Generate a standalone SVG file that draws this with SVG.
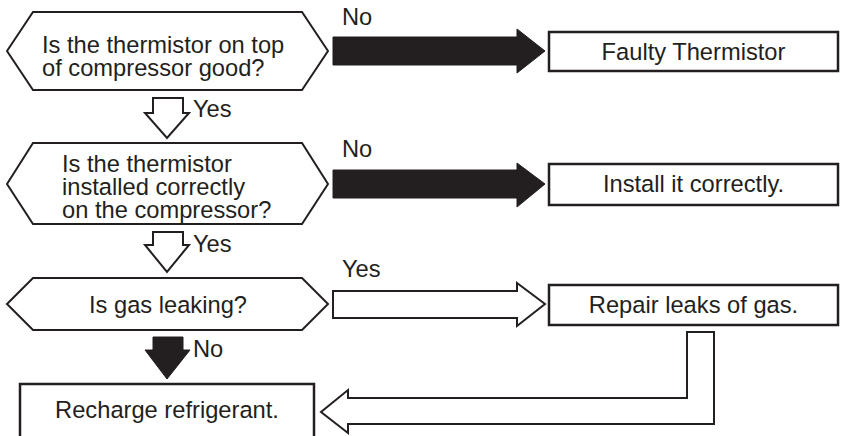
<svg xmlns="http://www.w3.org/2000/svg" width="853" height="436" viewBox="0 0 853 436">
<style>
.shape{fill:#fff;stroke:#231f20;stroke-width:2;stroke-linejoin:miter}
.box{fill:#fff;stroke:#231f20;stroke-width:2.5}
.solid{fill:#231f20;stroke:#231f20;stroke-width:1}
.hollow{fill:#fff;stroke:#231f20;stroke-width:2;stroke-linejoin:miter}
text{font-family:"Liberation Sans",Arial,sans-serif;font-size:23.7px;fill:#231f20}
.c{text-anchor:middle}
</style>
<rect width="853" height="436" fill="#fff"/>
<g id="q1">
<polygon class="shape" points="7,51 33,12 302,12 328,51 302,90 33,90"/>
<text x="42" y="53">Is the thermistor on top</text>
<text x="42" y="76">of compressor good?</text>
</g>
<g id="r1">
<rect class="box" x="549" y="32" width="289" height="39"/>
<text class="c" x="693.5" y="60">Faulty Thermistor</text>
</g>
<g id="q2">
<polygon class="shape" points="7,184 33,143 302,143 328,184 302,224 33,224"/>
<text x="62" y="172">Is the thermistor</text>
<text x="62" y="195">installed correctly</text>
<text x="62" y="218">on the compressor?</text>
</g>
<g id="r2">
<rect class="box" x="549" y="164" width="289" height="41"/>
<text class="c" x="693.5" y="192">Install it correctly.</text>
</g>
<g id="q3">
<polygon class="shape" points="7,304 33,278 302,278 328,304 302,330 33,330"/>
<text class="c" x="168" y="313">Is gas leaking?</text>
</g>
<g id="r3">
<rect class="box" x="549" y="285" width="289" height="40"/>
<text class="c" x="693.5" y="313">Repair leaks of gas.</text>
</g>
<g id="r4">
<rect class="box" x="20" y="384" width="294" height="70"/>
<text class="c" x="167" y="418">Recharge refrigerant.</text>
</g>
<g id="connectors">
<polygon class="solid" points="333,37 517,37 517,29 545,51 517,73 517,65 333,65"/>
<text x="342" y="25">No</text>
<polygon class="hollow" points="153,98 183,98 183,113 189,113 167,138 145,113 153,113"/>
<text x="193" y="117">Yes</text>
<polygon class="solid" points="333,170 517,170 517,163 545,184 517,207 517,198 333,198"/>
<text x="342" y="157">No</text>
<polygon class="hollow" points="153,232 183,232 183,245 189,245 167,272 145,245 153,245"/>
<text x="193" y="252">Yes</text>
<polygon class="hollow" points="333,291 517,291 517,283 545,304 517,326 517,318 333,318"/>
<text x="342" y="277">Yes</text>
<polygon class="solid" points="153,337 183,337 183,350 190,350 167,379 145,350 153,350"/>
<text x="193" y="357">No</text>
<polygon class="hollow" stroke-width="2.5" points="687,332 714,332 714,424 348,424 348,433 321,412 348,390 348,398 687,398"/>
</g>
</svg>
